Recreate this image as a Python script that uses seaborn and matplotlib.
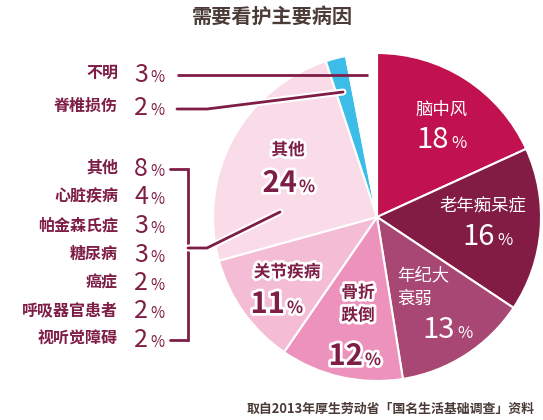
import matplotlib
matplotlib.use("Agg")
import matplotlib.pyplot as plt
import matplotlib.patheffects as pe
import seaborn as sns

# ---- data ----
categories = ["脑中风", "老年痴呆症", "年纪大衰弱", "骨折跌倒", "关节疾病", "其他", "脊椎损伤", "不明"]
values = [18, 16, 13, 12, 11, 24, 2, 3]
slice_colors = ["#C1124F", "#821C44", "#A94774", "#EC92BD", "#F5BDD5", "#F9DCE7", "#3BBDE8", "#FFFFFF"]

other_items = ["其他", "心脏疾病", "帕金森氏症", "糖尿病", "癌症", "呼吸器官患者", "视听觉障碍"]
other_values = [8, 4, 3, 3, 2, 2, 2]

title = "需要看护主要病因"
source = "取自2013年厚生劳动省「国名生活基础调查」资料"

# ---- style ----
sns.set_theme(style="white")
plt.rcParams["font.family"] = ["Noto Sans CJK SC", "DejaVu Sans"]

W, H = 543, 420
fig = plt.figure(figsize=(W / 100, H / 100), dpi=100)
ax = fig.add_axes([0, 0, 1, 1])

def Y(y):
    return H - y

WINE = "#7E1D45"
BROWN = "#4A3B37"
outline = [pe.withStroke(linewidth=4, foreground="white")]

cx, cy, R = 377, 217, 164
ax.pie(values, colors=slice_colors, startangle=90, counterclock=False,
       center=(cx, Y(cy)), radius=R,
       wedgeprops=dict(edgecolor="white", linewidth=1.5))
ax.set_xlim(0, W)
ax.set_ylim(0, H)
ax.set_aspect("equal")
ax.axis("off")

def pct(xs, yb, num, size=21, psize=12, color="white", effects=None, weight="medium"):
    t1 = ax.text(xs, Y(yb), str(num), ha="right", va="baseline", fontsize=size,
                 color=color, fontweight=weight)
    t2 = ax.text(xs + 2, Y(yb), "%", ha="left", va="baseline", fontsize=psize,
                 color=color, fontweight=weight)
    if effects:
        t1.set_path_effects(effects)
        t2.set_path_effects(effects)

def lab(x, y, s, color="white", effects=None, ha="center", size=12, weight="medium", ls=1.2):
    t = ax.text(x, Y(y), s, ha=ha, va="center", fontsize=size, color=color,
                fontweight=weight, linespacing=ls)
    if effects:
        t.set_path_effects(effects)

# pie labels
lab(442, 110, categories[0], size=12.5)
pct(449, 148, values[0])
lab(483, 205, categories[1], size=12.5)
pct(495, 245, values[1])
lab(397, 287, "年纪大\n衰弱", ha="left", ls=1.35, size=12.5)
pct(455, 338, values[2])
lab(358, 304, "骨折\n跌倒", color=WINE, effects=outline, weight="bold", ls=1.35)
pct(363, 365, values[3], color=WINE, effects=outline, weight="bold")
lab(287, 272, categories[4], color=WINE, effects=outline, weight="bold")
pct(285, 313, values[4], color=WINE, effects=outline, weight="bold")
lab(288, 150, categories[5], color=WINE, effects=outline, weight="bold")
pct(297, 192, values[5], color=WINE, effects=outline, weight="bold")

# left labels: 不明, 脊椎损伤
lab(118, 73, categories[7], color=WINE, ha="right", size=11.5, weight="bold")
pct(148, 82, values[7], size=18, psize=11, color=WINE, weight="normal")
lab(118, 106, categories[6], color=WINE, ha="right", size=11.5, weight="bold")
pct(148, 115, values[6], size=18, psize=11, color=WINE, weight="normal")

# leader lines
lw = 2.0
ax.plot([177, 368], [Y(75), Y(75)], color=WINE, lw=lw, solid_capstyle="butt")
ax.plot([177, 207, 343], [Y(109), Y(109), Y(92)], color=WINE, lw=lw,
        solid_capstyle="round",
        path_effects=[pe.Stroke(linewidth=lw + 3, foreground="white"), pe.Normal()])

# "其他" breakdown list
row_y0, row_dy = 176, 28.5
for i, (name, v) in enumerate(zip(other_items, other_values)):
    yb = row_y0 + i * row_dy
    lab(118, yb - 8, name, color=WINE, ha="right", size=11.5, weight="bold")
    pct(148, yb, v, size=18, psize=11, color=WINE, weight="normal")

top_y, bot_y = row_y0 - 7, row_y0 + 6 * row_dy - 7
ax.plot([170, 188, 188, 170], [Y(top_y), Y(top_y), Y(bot_y), Y(bot_y)],
        color=WINE, lw=lw, solid_joinstyle="miter")
ax.plot([188, 207, 280], [Y(248), Y(248), Y(212)], color=WINE, lw=lw,
        solid_capstyle="round",
        path_effects=[pe.Stroke(linewidth=lw + 3, foreground="white"), pe.Normal()])

# title and source
ax.text(272, Y(16), title, ha="center", va="center", fontsize=14.5,
        fontweight="bold", color=BROWN)
ax.text(535, Y(409), source, ha="right", va="center", fontsize=9.3,
        fontweight="bold", color=BROWN)

fig.savefig("out.png", dpi=100)
